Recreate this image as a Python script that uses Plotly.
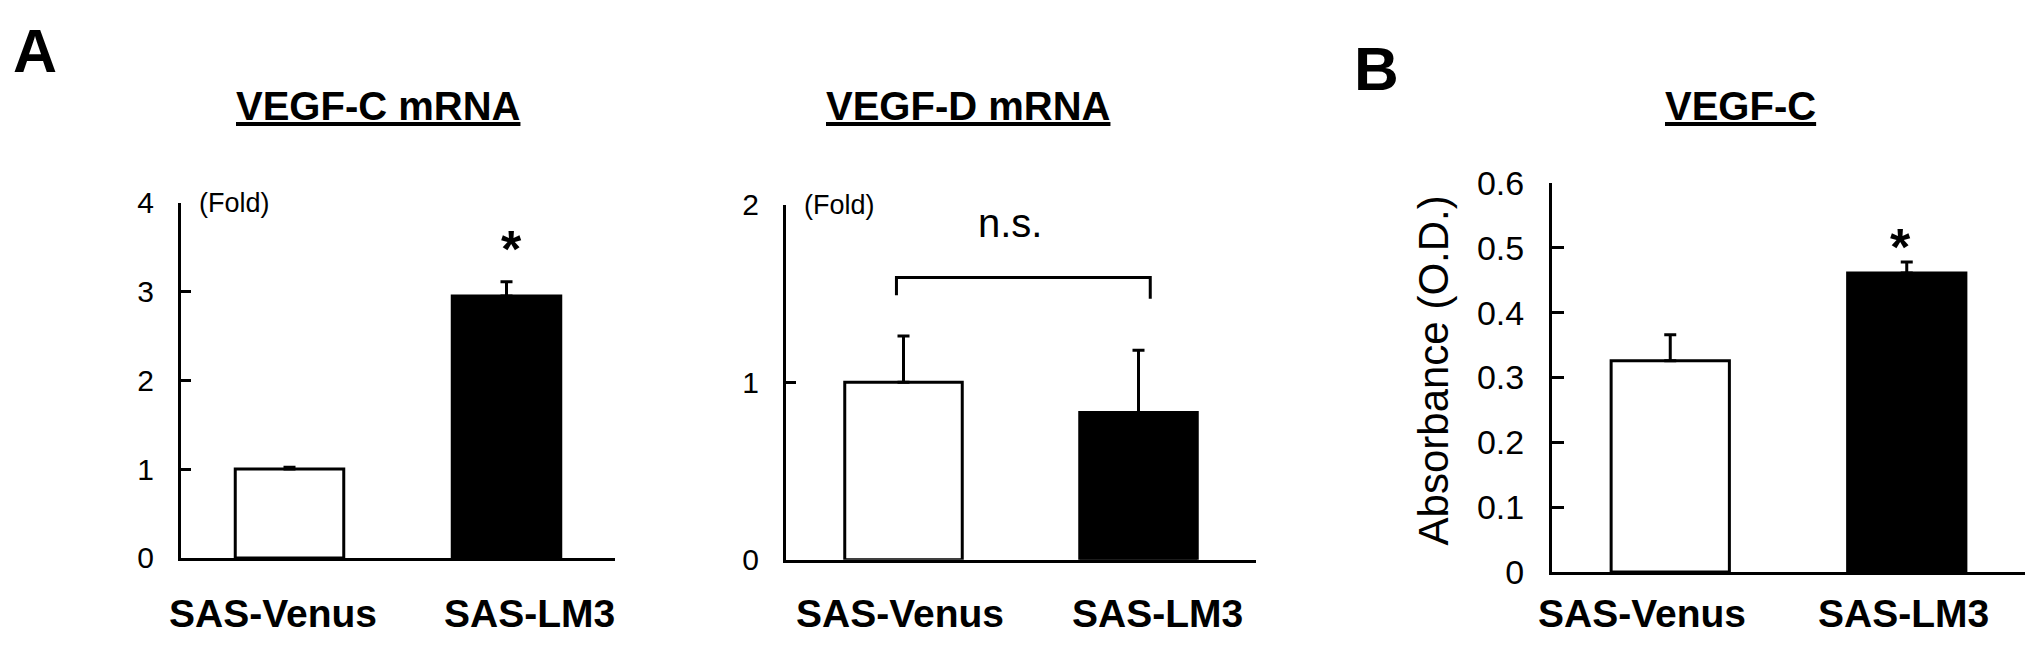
import plotly.graph_objects as go

W, H = 2031, 657

categories = ["SAS-Venus", "SAS-LM3"]
bar_colors = ["white", "black"]

# A: VEGF-C mRNA (fold)
vegfc_mrna = [1.0, 2.95]
vegfc_mrna_err = [0.02, 0.16]
# A: VEGF-D mRNA (fold)
vegfd_mrna = [1.0, 0.83]
vegfd_mrna_err = [0.26, 0.35]
# B: VEGF-C protein, absorbance (O.D.)
vegfc_od = [0.326, 0.461]
vegfc_od_err = [0.040, 0.017]

titles = ["VEGF-C mRNA", "VEGF-D mRNA", "VEGF-C"]
ns_bracket_x = [-0.03, 1.05]
ns_bracket_y = [1.49, 1.59, 1.59, 1.47]

FONT = "Liberation Sans, Arial, sans-serif"


def px(x):
    return x / W


def py(y):
    return 1 - y / H


fig = go.Figure()

panels = [
    (vegfc_mrna, vegfc_mrna_err, "x", "y"),
    (vegfd_mrna, vegfd_mrna_err, "x2", "y2"),
    (vegfc_od, vegfc_od_err, "x3", "y3"),
]
for vals, errs, xa, ya in panels:
    fig.add_trace(go.Bar(
        x=categories, y=vals, width=0.5,
        marker=dict(color=bar_colors, line=dict(color="black", width=3)),
        error_y=dict(type="data", array=errs, arrayminus=[0, 0], symmetric=False,
                     color="black", thickness=3, width=6),
        xaxis=xa, yaxis=ya, showlegend=False, hoverinfo="skip",
    ))


def xaxis_style(x0, x1, anchor):
    return dict(domain=[px(x0), px(x1)], range=[-0.5, 1.5], anchor=anchor,
                showline=True, linewidth=3, linecolor="black", ticks="",
                showticklabels=False, showgrid=False, zeroline=False, fixedrange=True)


def yaxis_style(y0, y1, top, dtick, anchor, size, ticklen):
    return dict(domain=[py(y0), py(y1)], range=[0, top], dtick=dtick, tick0=0,
                anchor=anchor, showline=True, linewidth=3, linecolor="black",
                ticks="inside", ticklen=ticklen, tickwidth=3, tickcolor="black",
                tickfont=dict(family=FONT, size=size, color="black"),
                ticklabelstandoff=18, showgrid=False, zeroline=False, fixedrange=True)


fig.update_layout(
    width=W, height=H,
    margin=dict(l=0, r=0, t=0, b=0),
    paper_bgcolor="white", plot_bgcolor="white",
    xaxis=xaxis_style(181, 615, "y"),
    yaxis=yaxis_style(572, 195, 4, 1, "x", 30, 10),
    xaxis2=xaxis_style(786, 1256, "y2"),
    yaxis2=yaxis_style(574, 197, 2, 1, "x2", 30, 10),
    xaxis3=xaxis_style(1552, 2025, "y3"),
    yaxis3=yaxis_style(587, 174, 0.6, 0.1, "x3", 34, 12),
)

ann = []
bold = dict(family=FONT, color="black", weight="bold")

# panel letters
ann.append(dict(text="A", x=px(35), y=py(34), font=dict(bold, size=61)))
ann.append(dict(text="B", x=px(1376), y=py(53), font=dict(bold, size=62)))

# underlined titles
for t, cx in zip(titles, [378, 968, 1740]):
    ann.append(dict(text="<u>" + t + "</u>", x=px(cx), y=py(92), font=dict(bold, size=40)))

# category labels under each panel
label_shifts = [(-17, 23), (-4, 19), (-28, -3)]
for (xa, shifts) in zip(["x", "x2", "x3"], label_shifts):
    for cat, s in zip(categories, shifts):
        ann.append(dict(text=cat, x=cat, xref=xa, y=py(631), yref="paper",
                        xshift=s, font=dict(bold, size=39)))

# fold unit labels
for xa, ya in [("x", "y"), ("x2", "y2")]:
    ann.append(dict(text="(Fold)", x=0, xref=xa + " domain", y=1, yref=ya + " domain",
                    xanchor="left", xshift=16,
                    font=dict(family=FONT, size=27, color="black")))

# significance marks
ann.append(dict(text="*", x=categories[1], xref="x", y=py(244), yref="paper", xshift=5,
                font=dict(bold, size=52)))
ann.append(dict(text="*", x=categories[1], xref="x3", y=py(242), yref="paper", xshift=-6,
                font=dict(bold, size=52)))
ann.append(dict(text="n.s.", x=0.5, xref="x2", y=py(217), yref="paper", xshift=-11,
                font=dict(family=FONT, size=40, color="black")))

# y-axis title of panel B
ann.append(dict(text="Absorbance (O.D.)", x=px(1433), y=py(373), textangle=-90,
                font=dict(family=FONT, size=42, color="black")))

for a in ann:
    a.setdefault("xref", "paper")
    a.setdefault("yref", "paper")
    a.setdefault("xanchor", "center")
    a.setdefault("yanchor", "middle")
    a["showarrow"] = False
fig.update_layout(annotations=ann)

# bracket over the VEGF-D bars
fig.add_shape(type="path", xref="x2", yref="y2",
              path="M {0},{2} L {0},{3} L {1},{4} L {1},{5}".format(
                  ns_bracket_x[0], ns_bracket_x[1], *ns_bracket_y),
              line=dict(color="black", width=3))

# drop the browser's default page margin so the figure sits at the window origin
fig.write_html("out.html", config={"displayModeBar": False},
               post_script="document.body.style.margin='0px';")
